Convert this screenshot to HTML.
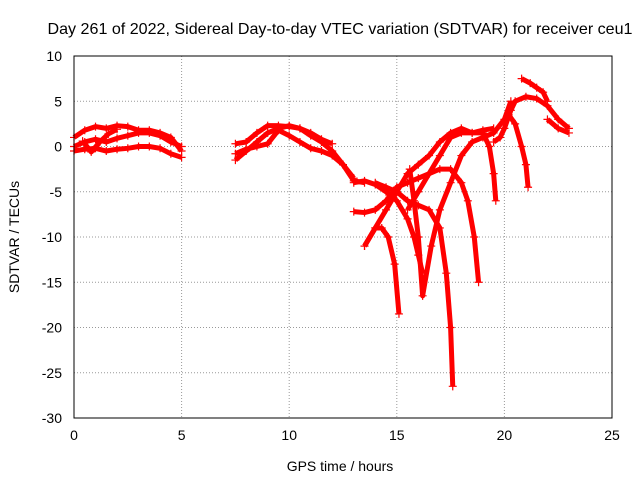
<!DOCTYPE html>
<html><head><meta charset="utf-8"><style>
body{margin:0;background:#fff}
svg{display:block;font-family:"Liberation Sans",sans-serif;font-size:14px}
</style></head><body>
<svg id="chart" width="640" height="480">
<text x="340" y="34" text-anchor="middle" font-size="16" textLength="585" lengthAdjust="spacingAndGlyphs">Day 261 of 2022, Sidereal Day-to-day VTEC variation (SDTVAR) for receiver ceu1</text>
<text x="340" y="471" text-anchor="middle">GPS time / hours</text>
<text transform="translate(19,237) rotate(-90)" text-anchor="middle">SDTVAR / TECUs</text>
<g id="grid"></g><g id="marks"></g>
<rect x="74" y="56" width="538" height="362" fill="none" stroke="#000"/>
</svg>
<script>
const xTicks=[0,5,10,15,20,25];
const yTicks=[10,5,0,-5,-10,-15,-20,-25,-30];
const tracks=[
[[0,1],[0.5,1.8],[1,2.2],[1.5,2],[2,2.3],[2.5,2.2],[3,1.8],[3.5,1.8],[4,1.5],[4.5,1],[5,-0.5]],
[[0,0],[0.5,0.5],[1,0.8],[1.5,0.5],[2,0.9],[2.5,1.2],[3,1.5],[3.5,1.5],[4,1.2],[4.5,0.5],[5,0]],
[[0,-0.5],[0.5,-0.3],[1,-0.2],[1.5,-0.5],[2,-0.3],[2.5,-0.2],[3,0],[3.5,0],[4,-0.2],[4.5,-0.8],[5,-1.2]],
[[0.4,0.6],[0.8,-0.6],[1.2,0.5],[1.6,1.4],[2,1.9]],
[[7.5,0.3],[8,0.5],[8.5,1.5],[9,2.3],[9.5,2.3],[10,2.2],[10.5,2],[11,1.2],[11.5,0.5],[12,-0.5],[12.5,-2],[13,-3.8],[13.5,-4]],
[[7.5,-1.5],[8,-0.5],[8.5,0.5],[9,1.5],[9.5,2],[10,2.3],[10.5,2],[11,1.5],[11.5,0.8],[12,0.3]],
[[7.5,-0.8],[8,-0.3],[8.5,0],[9,0.3],[9.5,1.8],[10,1.2],[10.5,0.5],[11,-0.2],[11.5,-0.5],[12,-1],[12.5,-2],[13,-3.5]],
[[13,-4],[13.5,-3.8],[14,-4.2],[14.5,-5],[15,-6],[15.5,-8],[15.8,-10],[16,-12],[16.2,-14]],
[[13,-7.2],[13.5,-7.3],[14,-7],[14.5,-6],[15,-4.5],[15.5,-4],[16,-3.5],[16.5,-3],[17,-2.5],[17.5,-2.5],[18,-4],[18.3,-6],[18.6,-10],[18.8,-15]],
[[14,-4],[14.5,-4.5],[15,-5],[15.5,-6],[16,-6.5],[16.5,-7],[17,-9],[17.3,-14],[17.5,-20],[17.6,-26.5]],
[[13.5,-11],[14,-9],[14.3,-9],[14.6,-10],[14.9,-13],[15.1,-18.5]],
[[13.5,-11],[14,-9],[14.5,-7],[15,-5],[15.5,-3],[16,-2],[16.5,-1],[17,0.5],[17.5,1.5],[18,2],[18.5,1.5],[19,1.8],[19.5,2]],
[[15.5,-7],[16,-5],[16.5,-3],[17,-1],[17.5,1],[18,1.5],[18.5,1.5],[19,1.5],[19.3,0],[19.5,-3],[19.6,-6]],
[[15.6,-2.5],[15.8,-6],[16,-10],[16.2,-16.5],[16.6,-11],[17,-7],[17.5,-4],[18,-1],[18.5,0.5],[19,1],[19.5,1.5],[20,3],[20.3,5]],
[[19.5,0.5],[19.8,1],[20,2],[20.3,4],[20.5,5],[21,5.5],[21.5,5.3],[22,4.5],[22.5,3],[23,2]],
[[20.8,7.5],[21.2,7],[21.5,6.5],[21.8,6],[22,5]],
[[20.2,3.5],[20.5,2.5],[20.8,0],[21,-2],[21.1,-4.5]],
[[22,3],[22.5,2],[23,1.5]]
];
const ns="http://www.w3.org/2000/svg";
const X=v=>74+v*538/25, Y=v=>56+(10-v)*362/40;
const grid=document.getElementById('grid'), marks=document.getElementById('marks');
function mk(tag,attrs,parent){const e=document.createElementNS(ns,tag);for(const k in attrs)e.setAttribute(k,attrs[k]);parent.appendChild(e);return e;}
xTicks.forEach(t=>{
 const l=mk('line',{x1:X(t),x2:X(t),y1:56,y2:418,stroke:'#999','stroke-dasharray':'1,2'},grid);
 
 
 const tx=mk('text',{x:X(t),y:440,'text-anchor':'middle'},grid);tx.textContent=t;
 
 
});
yTicks.forEach(t=>{
 const l=mk('line',{x1:74,x2:612,y1:Y(t),y2:Y(t),stroke:'#999','stroke-dasharray':'1,2'},grid);
 
 
 const tx=mk('text',{x:62,y:Y(t)+5,'text-anchor':'end'},grid);tx.textContent=t;
 
 
});
tracks.forEach((tr,i)=>{
 const p=mk('polyline',{points:tr.map(d=>X(d[0])+','+Y(d[1])).join(' '),fill:'none',stroke:'#f00','stroke-width':5,'stroke-linejoin':'round'},marks);
 
 
 tr.forEach(d=>{
  const m=mk('path',{d:`M${X(d[0])-4},${Y(d[1])}h8M${X(d[0])},${Y(d[1])-4}v8`,stroke:'#f00','stroke-width':1.2},marks);
  
  
 });
});
</script>
</body></html>
